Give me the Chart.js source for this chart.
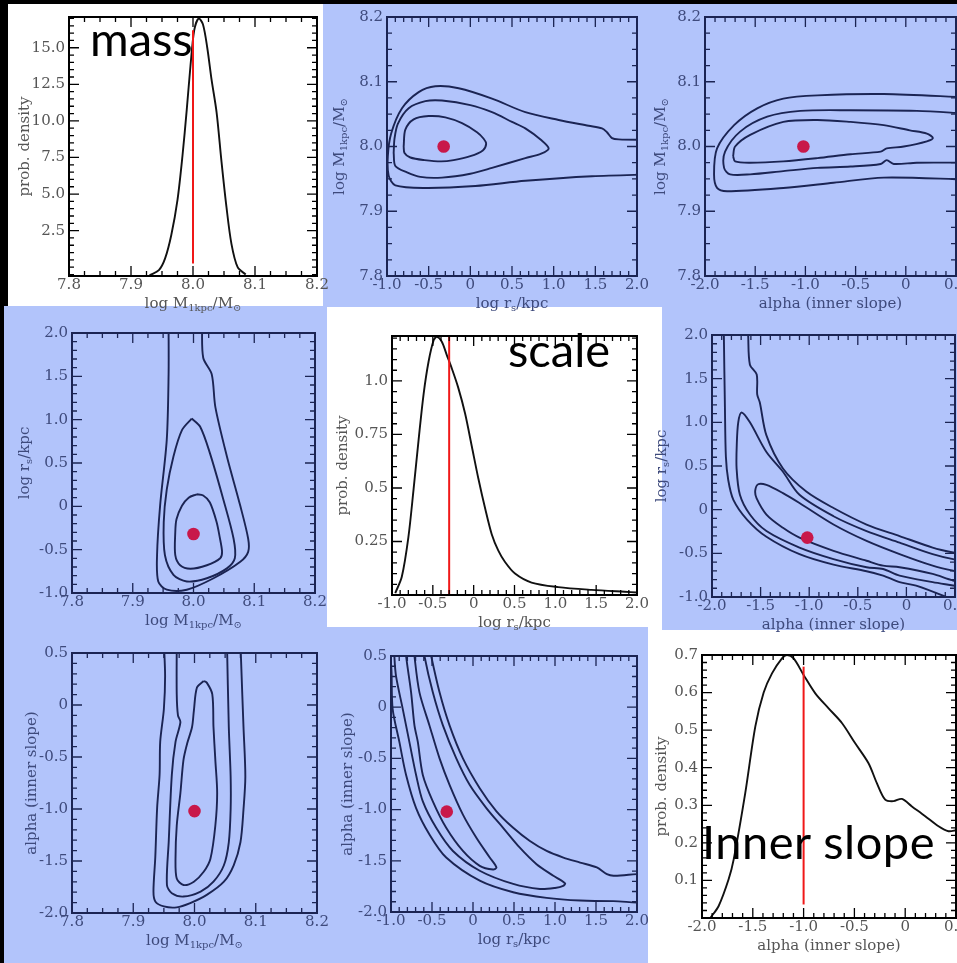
<!DOCTYPE html>
<html>
<head>
<meta charset="utf-8">
<script src="https://cdn.jsdelivr.net/npm/chart.js@4.4.0/dist/chart.umd.min.js"></script>
<style>
  html, body { margin: 0; padding: 0; background: #000; width: 957px; height: 963px; overflow: hidden; position: relative; }
  .bg { position: absolute; }
  canvas { position: absolute; z-index: 2; }
  .tag { position: absolute; z-index: 5; font-family: Lato, "Open Sans", sans-serif; font-size: 47px; line-height: 47px; color: #000; white-space: nowrap; }
</style>
</head>
<body>
<div class="bg" style="left:8px;top:4px;width:315px;height:302px;background:#fff"></div>
<div class="bg" style="left:323px;top:4px;width:329px;height:303px;background:#b2c4fb"></div>
<div class="bg" style="left:652px;top:4px;width:305px;height:303px;background:#b2c4fb"></div>
<div class="bg" style="left:4px;top:306px;width:323px;height:322px;background:#b2c4fb"></div>
<div class="bg" style="left:327px;top:307px;width:335px;height:323px;background:#fff"></div>
<div class="bg" style="left:662px;top:307px;width:295px;height:323px;background:#b2c4fb"></div>
<div class="bg" style="left:4px;top:628px;width:322px;height:335px;background:#b2c4fb"></div>
<div class="bg" style="left:326px;top:627px;width:322px;height:336px;background:#b2c4fb"></div>
<div class="bg" style="left:648px;top:630px;width:309px;height:333px;background:#fff"></div>

<div class="tag" style="left:90px;top:15px">mass</div>
<div class="tag" style="left:508px;top:326px">scale</div>
<div class="tag" style="left:702px;top:818px;letter-spacing:0.5px">Inner slope</div>

<script>
// ---- axes: ranges, tick values, tick labels
const mTicks = [7.8, 7.9, 8.0, 8.1, 8.2];
const mLabels = ["7.8", "7.9", "8.0", "8.1", "8.2"];
const rsTicks = [-1, -0.5, 0, 0.5, 1, 1.5, 2];
const rsLabels = ["-1.0", "-0.5", "0", "0.5", "1.0", "1.5", "2.0"];
const alphaTicks = [-2, -1.5, -1, -0.5, 0, 0.5];
const alphaLabels = ["-2.0", "-1.5", "-1.0", "-0.5", "0", "0.5"];
const massPdfTicks = [2.5, 5, 7.5, 10, 12.5, 15];
const massPdfLabels = ["2.5", "5.0", "7.5", "10.0", "12.5", "15.0"];
const scalePdfTicks = [0.25, 0.5, 0.75, 1.0];
const scalePdfLabels = ["0.25", "0.5", "0.75", "1.0"];
const slopePdfTicks = [0.1, 0.2, 0.3, 0.4, 0.5, 0.6, 0.7];
const slopePdfLabels = ["0.1", "0.2", "0.3", "0.4", "0.5", "0.6", "0.7"];

// true parameter values (red dots and red lines)
const markPoint = [8.0, -0.32, -1.02];   // M, rs, alpha
const truthLine = [8.0, -0.30, -1.00];
const massLineY = [0.25, 16.2];
const scaleLineY = [0, 1.21];
const slopeLineY = [0.036, 0.669];

// ---- 1D marginals
const massX = [7.930, 7.945, 7.955, 7.965, 7.975, 7.983, 7.990, 7.996, 8.002, 8.009, 8.016, 8.023, 8.030, 8.038, 8.046, 8.054, 8.062, 8.072, 8.085];
const massY = [-0.55, -0.2, 0.6, 2.2, 4.6, 7.6, 10.8, 13.8, 16.2, 17.0, 16.6, 15.0, 12.8, 10.6, 7.2, 4.1, 1.6, 0.0, -0.5];

const scaleX = [-0.96, -0.88, -0.80, -0.735, -0.674, -0.613, -0.552, -0.49, -0.45, -0.39, -0.33, -0.27, -0.19, -0.105, -0.023, 0.058, 0.14, 0.221, 0.302, 0.384, 0.506, 0.709, 1.035, 1.442, 1.849, 2.0];
const scaleY = [0.009, 0.085, 0.268, 0.497, 0.726, 0.939, 1.091, 1.19, 1.206, 1.183, 1.122, 1.061, 0.97, 0.848, 0.695, 0.543, 0.405, 0.284, 0.207, 0.154, 0.1, 0.058, 0.037, 0.024, 0.015, 0.012];

const slopeX = [-1.918, -1.836, -1.738, -1.688, -1.574, -1.475, -1.393, -1.311, -1.213, -1.164, -1.098, -1.0, -0.885, -0.754, -0.623, -0.492, -0.361, -0.279, -0.197, -0.115, -0.033, 0.066, 0.197, 0.328, 0.426, 0.508];
const slopeY = [0.0, 0.032, 0.103, 0.156, 0.333, 0.51, 0.6, 0.651, 0.691, 0.7, 0.691, 0.647, 0.598, 0.558, 0.519, 0.465, 0.412, 0.359, 0.315, 0.311, 0.317, 0.297, 0.271, 0.244, 0.231, 0.234];

// ---- 2D contours, [x, y] pairs (points past the axes are clipped)
// log rs (x) vs log M (y)
const rsM_inner = [[-0.80, 8.000], [-0.78, 8.026], [-0.68, 8.042], [-0.50, 8.047], [-0.30, 8.045], [-0.10, 8.036], [0.08, 8.022], [0.16, 8.012], [0.19, 8.004], [0.15, 7.994], [0.00, 7.985], [-0.20, 7.979], [-0.35, 7.977], [-0.55, 7.979], [-0.72, 7.983], [-0.79, 7.990], [-0.80, 8.000]];
const rsM_middle = [[-0.92, 7.990], [-0.91, 8.012], [-0.87, 8.035], [-0.74, 8.059], [-0.54, 8.070], [-0.34, 8.071], [0.00, 8.064], [0.26, 8.053], [0.50, 8.038], [0.66, 8.028], [0.85, 8.010], [0.94, 7.997], [0.85, 7.989], [0.66, 7.982], [0.26, 7.967], [0.00, 7.958], [-0.34, 7.952], [-0.60, 7.953], [-0.76, 7.960], [-0.90, 7.970], [-0.92, 7.990]];
const rsM_outer = [[2.2, 8.010], [1.78, 8.011], [1.70, 8.013], [1.64, 8.022], [1.58, 8.028], [1.42, 8.032], [1.06, 8.041], [0.66, 8.053], [0.26, 8.074], [-0.14, 8.090], [-0.42, 8.093], [-0.62, 8.084], [-0.82, 8.059], [-0.95, 8.020], [-0.99, 7.985], [-0.98, 7.955], [-0.90, 7.940], [-0.54, 7.936], [0.06, 7.939], [0.66, 7.947], [1.46, 7.954], [2.2, 7.957]];

// log M (x) vs log rs (y)
const Mrs_inner = [[8.005, 0.139], [7.992, 0.10], [7.981, 0.006], [7.972, -0.15], [7.970, -0.30], [7.970, -0.564], [7.978, -0.68], [7.995, -0.72], [8.022, -0.68], [8.044, -0.60], [8.047, -0.525], [8.043, -0.35], [8.038, -0.18], [8.027, 0.044], [8.016, 0.125], [8.005, 0.139]];
const Mrs_middle = [[7.997, 1.013], [7.981, 0.88], [7.967, 0.576], [7.956, 0.196], [7.951, -0.184], [7.953, -0.564], [7.967, -0.79], [7.989, -0.867], [8.022, -0.83], [8.055, -0.716], [8.068, -0.60], [8.066, -0.374], [8.049, 0.082], [8.027, 0.614], [8.011, 0.918], [7.997, 1.013]];
const Mrs_outer = [[7.959, 2.1], [7.959, 1.525], [7.956, 0.77], [7.945, 0.006], [7.940, -0.564], [7.942, -0.868], [7.956, -0.962], [7.989, -0.962], [8.033, -0.83], [8.077, -0.64], [8.090, -0.525], [8.090, -0.374], [8.077, 0.006], [8.055, 0.576], [8.036, 1.145], [8.030, 1.525], [8.016, 1.715], [8.014, 2.1]];

// alpha (x) vs log M (y)
const aM_inner = [[-1.72, 7.985], [-1.70, 8.000], [-1.55, 8.018], [-1.22, 8.038], [-0.88, 8.041], [-0.55, 8.038], [-0.22, 8.033], [0.04, 8.025], [0.21, 8.020], [0.27, 8.013], [0.21, 8.008], [-0.02, 8.000], [-0.19, 7.997], [-0.25, 7.992], [-0.55, 7.988], [-0.88, 7.982], [-1.22, 7.977], [-1.55, 7.975], [-1.70, 7.977], [-1.72, 7.985]];
const aM_middle = [[0.6, 8.051], [0.11, 8.055], [-0.55, 8.056], [-1.05, 8.055], [-1.38, 8.046], [-1.65, 8.023], [-1.80, 7.992], [-1.81, 7.967], [-1.75, 7.957], [-1.55, 7.957], [-1.22, 7.962], [-0.88, 7.967], [-0.55, 7.969], [-0.25, 7.973], [-0.19, 7.979], [-0.12, 7.973], [0.11, 7.975], [0.6, 7.975]];
const aM_outer = [[0.6, 8.076], [-0.22, 8.081], [-0.88, 8.079], [-1.22, 8.074], [-1.48, 8.059], [-1.71, 8.033], [-1.88, 7.997], [-1.91, 7.957], [-1.88, 7.936], [-1.78, 7.931], [-1.22, 7.936], [-0.72, 7.944], [-0.22, 7.952], [0.6, 7.949]];

// log M (x) vs alpha (y)
const Ma_outer = [[7.950, 0.6], [7.952, 0.278], [7.950, -0.038], [7.944, -0.354], [7.943, -0.67], [7.939, -0.987], [7.936, -1.462], [7.933, -1.794], [7.936, -1.889], [7.950, -1.937], [7.971, -1.946], [7.993, -1.905], [8.020, -1.826], [8.048, -1.699], [8.064, -1.541], [8.075, -1.320], [8.080, -1.003], [8.083, -0.687], [8.080, -0.212], [8.078, 0.104], [8.075, 0.6]];
const Ma_middle = [[7.971, 0.6], [7.971, 0.104], [7.973, -0.10], [7.977, -0.165], [7.969, -0.354], [7.963, -0.67], [7.958, -1.304], [7.955, -1.731], [7.963, -1.81], [7.982, -1.842], [8.010, -1.794], [8.031, -1.699], [8.048, -1.541], [8.056, -1.320], [8.059, -1.003], [8.059, -0.687], [8.056, -0.212], [8.053, 0.6]];
const Ma_inner = [[8.015, 0.231], [8.004, 0.168], [7.999, -0.054], [7.996, -0.212], [7.988, -0.370], [7.982, -0.528], [7.977, -0.845], [7.971, -1.161], [7.969, -1.478], [7.971, -1.668], [7.982, -1.731], [7.999, -1.699], [8.015, -1.604], [8.026, -1.478], [8.034, -1.161], [8.037, -0.845], [8.034, -0.528], [8.031, -0.212], [8.029, 0.104], [8.020, 0.215], [8.015, 0.231]];

// alpha (x) vs log rs (y)
const ars_outer = [[-1.63, 2.1], [-1.628, 2.0], [-1.61, 1.66], [-1.54, 1.547], [-1.535, 1.32], [-1.508, 1.227], [-1.44, 0.85], [-1.27, 0.472], [-1.03, 0.208], [-0.75, 0.019], [-0.41, -0.17], [-0.07, -0.302], [0.27, -0.434], [0.48, -0.49], [0.7, -0.53], [0.7, -1.1], [0.5, -1.05], [0.41, -1.0], [0.10, -0.87], [-0.07, -0.83], [-0.24, -0.755], [-0.41, -0.705], [-0.75, -0.63], [-1.10, -0.51], [-1.44, -0.31], [-1.64, -0.113], [-1.78, 0.113], [-1.833, 0.34], [-1.857, 0.604], [-1.867, 1.17], [-1.878, 2.0], [-1.878, 2.1]];
const ars_middle = [[0.7, -0.60], [0.48, -0.566], [0.27, -0.509], [-0.07, -0.377], [-0.41, -0.245], [-0.75, -0.075], [-1.10, 0.17], [-1.27, 0.434], [-1.44, 0.66], [-1.61, 1.0], [-1.696, 1.113], [-1.73, 1.0], [-1.745, 0.75], [-1.747, 0.472], [-1.713, 0.17], [-1.61, -0.056], [-1.44, -0.245], [-1.10, -0.434], [-0.75, -0.566], [-0.41, -0.66], [-0.24, -0.679], [-0.07, -0.755], [0.27, -0.83], [0.48, -0.868], [0.7, -0.91]];
const ars_inner = [[0.7, -0.74], [0.48, -0.698], [0.27, -0.641], [-0.07, -0.509], [-0.41, -0.358], [-0.75, -0.17], [-1.10, 0.076], [-1.27, 0.189], [-1.44, 0.283], [-1.525, 0.291], [-1.555, 0.22], [-1.542, 0.132], [-1.44, -0.056], [-1.27, -0.208], [-1.10, -0.32], [-0.75, -0.471], [-0.41, -0.585], [-0.24, -0.641], [-0.07, -0.66], [0.27, -0.736], [0.48, -0.811], [0.7, -0.85]];

// log rs (x) vs alpha (y)
const rsa_outer = [[-1.02, 0.6], [-0.995, 0.37], [-0.98, -0.016], [-0.898, -0.339], [-0.816, -0.662], [-0.694, -0.985], [-0.531, -1.243], [-0.327, -1.468], [0.082, -1.694], [0.49, -1.807], [0.898, -1.862], [1.306, -1.888], [1.714, -1.894], [2.2, -1.888], [2.2, -1.646], [1.714, -1.646], [1.633, -1.63], [1.51, -1.565], [1.306, -1.517], [1.102, -1.468], [0.898, -1.404], [0.694, -1.307], [0.49, -1.178], [0.286, -1.017], [0.082, -0.791], [-0.123, -0.5], [-0.286, -0.178], [-0.408, 0.145], [-0.51, 0.5], [-0.53, 0.6]];
const rsa_middle = [[-0.6, 0.6], [-0.592, 0.5], [-0.49, 0.145], [-0.367, -0.178], [-0.204, -0.5], [-0.041, -0.758], [0.163, -0.985], [0.367, -1.178], [0.571, -1.372], [0.775, -1.533], [0.98, -1.646], [1.123, -1.72], [1.1, -1.745], [1.0, -1.765], [0.816, -1.775], [0.49, -1.726], [0.082, -1.597], [-0.245, -1.404], [-0.449, -1.178], [-0.612, -0.92], [-0.694, -0.662], [-0.776, -0.339], [-0.857, -0.016], [-0.939, 0.306], [-0.959, 0.5], [-0.96, 0.6]];
const rsa_inner = [[-0.72, 0.6], [-0.714, 0.5], [-0.653, 0.145], [-0.531, -0.178], [-0.408, -0.5], [-0.286, -0.758], [-0.123, -1.049], [0.041, -1.275], [0.204, -1.468], [0.286, -1.565], [0.245, -1.585], [0.082, -1.549], [-0.123, -1.404], [-0.327, -1.178], [-0.49, -0.92], [-0.612, -0.662], [-0.673, -0.339], [-0.714, -0.178], [-0.755, 0.145], [-0.816, 0.5], [-0.82, 0.6]];

// ---- axis specs
const mTitle = [["log M", 0], ["1kpc", 1], ["/M", 0], ["\u2299", 1]];
const rsTitle = [["log r", 0], ["s", 1], ["/kpc", 0]];
const alphaTitle = [["alpha (inner slope)", 0]];
const pdfTitle = [["prob. density", 0]];

const axM = { min: 7.8, max: 8.2, ticks: mTicks, labels: mLabels, minor: 0.025, title: mTitle };
const axRs = { min: -1, max: 2, ticks: rsTicks, labels: rsLabels, minor: 0.1, title: rsTitle };
const axAlpha = { min: -2, max: 0.5, ticks: alphaTicks, labels: alphaLabels, minor: 0.1, title: alphaTitle };
const axMassPdf = { min: -0.6, max: 17.1, ticks: massPdfTicks, labels: massPdfLabels, minor: 0.5, title: pdfTitle };
const axScalePdf = { min: 0, max: 1.21, ticks: scalePdfTicks, labels: scalePdfLabels, minor: 0.05, title: pdfTitle };
const axSlopePdf = { min: 0, max: 0.7, ticks: slopePdfTicks, labels: slopePdfLabels, minor: 0.02, title: pdfTitle };

const navy = "#1b2453";
const dotColor = "#c8184a";
const redLine = "#f01818";
const serif = '"DejaVu Serif", "Liberation Serif", serif';

const pts = pairs => pairs.map(([x, y]) => ({ x, y }));
const zip = (xs, ys) => xs.map((x, i) => ({ x, y: ys[i] }));

const contour = pairs => ({
  data: pts(pairs), showLine: true, pointRadius: 0, borderColor: navy,
  borderWidth: 1.9, tension: 0.3, fill: false
});
const dot = (x, y) => ({
  data: [{ x, y }], showLine: false, pointRadius: 6.3, pointHoverRadius: 6.3,
  pointBackgroundColor: dotColor, pointBorderWidth: 0
});
const curve = (xs, ys) => ({
  data: zip(xs, ys), showLine: true, pointRadius: 0, borderColor: "#111",
  borderWidth: 1.9, tension: 0.3, fill: false
});
const vline = (x, ys) => ({
  data: ys.map(y => ({ x, y })), showLine: true, pointRadius: 0,
  borderColor: redLine, borderWidth: 2, fill: false
});

function tickValues(spec) {
  const out = [];
  const k0 = Math.ceil(spec.min / spec.minor - 1e-6);
  const k1 = Math.floor(spec.max / spec.minor + 1e-6);
  for (let k = k0; k <= k1; k++) out.push(k * spec.minor);
  return out;
}
const isMajor = (spec, v) => spec.ticks.some(t => Math.abs(t - v) < spec.minor / 10);

function drawRich(ctx, parts, cx, cy) {
  const big = "15px " + serif, small = "10px " + serif;
  let w = 0;
  parts.forEach(([t, sub]) => { ctx.font = sub ? small : big; w += ctx.measureText(t).width; });
  let x = cx - w / 2;
  ctx.textAlign = "left";
  ctx.textBaseline = "middle";
  parts.forEach(([t, sub]) => {
    ctx.font = sub ? small : big;
    ctx.fillText(t, x, cy + (sub ? 4 : 0));
    x += ctx.measureText(t).width;
  });
}

function axisOpts(spec, isX, size, color) {
  return {
    type: "linear", min: spec.min, max: spec.max,
    grid: { display: false, drawTicks: false },
    border: { display: false },
    afterBuildTicks: s => { s.ticks = spec.ticks.map(v => ({ value: v })); },
    afterFit: s => { if (isX) s.height = size; else s.width = size; },
    ticks: {
      autoSkip: false, maxRotation: 0, minRotation: 0,
      padding: isX ? 0 : 4, color,
      font: { family: serif, size: 15 },
      callback: (v, i) => spec.labels[i]
    }
  };
}

function makePanel(box, cfg) {
  const [l, t, r, b] = box;
  const padL = 72, padT = 10, padR = 16, padB = 48;
  const frameColor = cfg.white ? "#000" : navy;
  const textColor = cfg.white ? "#555" : "#3e4a7c";
  const c = document.createElement("canvas");
  c.width = (r - l) + padL + padR;
  c.height = (b - t) + padT + padB;
  c.style.left = (l - padL) + "px";
  c.style.top = (t - padT) + "px";
  document.body.appendChild(c);

  new Chart(c, {
    type: "scatter",
    data: { datasets: cfg.datasets },
    options: {
      responsive: false,
      animation: false,
      layout: { padding: { left: 0, top: padT, right: padR, bottom: 0 } },
      plugins: { legend: { display: false }, tooltip: { enabled: false } },
      scales: {
        x: axisOpts(cfg.x, true, padB, textColor),
        y: axisOpts(cfg.y, false, padL, textColor)
      }
    },
    plugins: [{
      id: "idlFrame",
      afterDatasetsDraw(chart) {
        const { ctx, chartArea: a } = chart;
        const sx = chart.scales.x, sy = chart.scales.y;
        ctx.save();
        ctx.strokeStyle = frameColor;
        ctx.lineWidth = 1.3;
        ctx.beginPath();
        tickValues(cfg.x).forEach(v => {
          const len = isMajor(cfg.x, v) ? 10 : 5;
          const p = sx.getPixelForValue(v);
          ctx.moveTo(p, a.bottom); ctx.lineTo(p, a.bottom - len);
          ctx.moveTo(p, a.top); ctx.lineTo(p, a.top + len);
        });
        tickValues(cfg.y).forEach(v => {
          const len = isMajor(cfg.y, v) ? 10 : 5;
          const p = sy.getPixelForValue(v);
          ctx.moveTo(a.left, p); ctx.lineTo(a.left + len, p);
          ctx.moveTo(a.right, p); ctx.lineTo(a.right - len, p);
        });
        ctx.stroke();
        ctx.lineWidth = 2;
        ctx.strokeRect(a.left, a.top, a.right - a.left, a.bottom - a.top);
        ctx.restore();
      },
      afterDraw(chart) {
        const { ctx, chartArea: a } = chart;
        ctx.save();
        ctx.fillStyle = textColor;
        drawRich(ctx, cfg.x.title, (a.left + a.right) / 2, a.bottom + 28);
        ctx.translate(a.left - cfg.yOff, (a.top + a.bottom) / 2);
        ctx.rotate(-Math.PI / 2);
        drawRich(ctx, cfg.y.title, 0, 0);
        ctx.restore();
      }
    }]
  });
}

// ---- row 1
makePanel([69, 14, 317, 276], {
  x: axM, y: axMassPdf, white: true, yOff: 44,
  datasets: [vline(truthLine[0], massLineY), curve(massX, massY)]
});
makePanel([387, 14, 637, 276], {
  x: axRs, y: axM, yOff: 47,
  datasets: [dot(markPoint[1], markPoint[0]), contour(rsM_inner), contour(rsM_middle), contour(rsM_outer)]
});
makePanel([705, 14, 956, 276], {
  x: axAlpha, y: axM, yOff: 44,
  datasets: [dot(markPoint[2], markPoint[0]), contour(aM_inner), contour(aM_middle), contour(aM_outer)]
});

// ---- row 2
makePanel([72, 330, 315, 593], {
  x: axM, y: axRs, yOff: 47,
  datasets: [dot(markPoint[0], markPoint[1]), contour(Mrs_inner), contour(Mrs_middle), contour(Mrs_outer)]
});
makePanel([392, 333, 637, 595], {
  x: axRs, y: axScalePdf, white: true, yOff: 49,
  datasets: [vline(truthLine[1], scaleLineY), curve(scaleX, scaleY)]
});
makePanel([712, 332, 955, 597], {
  x: axAlpha, y: axRs, yOff: 50,
  datasets: [dot(markPoint[2], markPoint[1]), contour(ars_inner), contour(ars_middle), contour(ars_outer)]
});

// ---- row 3
makePanel([72, 650, 317, 913], {
  x: axM, y: axAlpha, yOff: 40,
  datasets: [dot(markPoint[0], markPoint[2]), contour(Ma_inner), contour(Ma_middle), contour(Ma_outer)]
});
makePanel([391, 653, 637, 912], {
  x: axRs, y: axAlpha, yOff: 43,
  datasets: [dot(markPoint[1], markPoint[2]), contour(rsa_inner), contour(rsa_middle), contour(rsa_outer)]
});
makePanel([702, 652, 956, 918], {
  x: axAlpha, y: axSlopePdf, white: true, yOff: 40,
  datasets: [vline(truthLine[2], slopeLineY), curve(slopeX, slopeY)]
});
</script>
</body>
</html>
